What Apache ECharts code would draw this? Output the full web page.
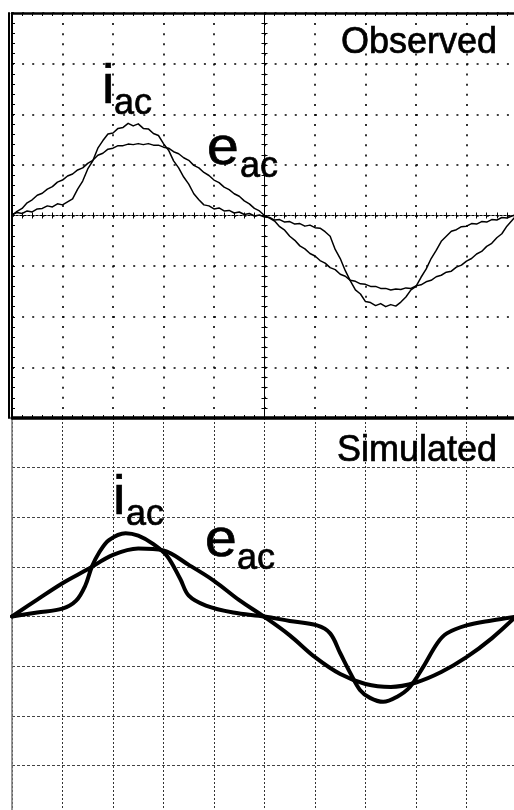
<!DOCTYPE html>
<html>
<head>
<meta charset="utf-8">
<script src="https://cdn.jsdelivr.net/npm/echarts@6/dist/echarts.min.js"></script>
<style>
  html, body { margin: 0; padding: 0; background: #fff; }
  #chart { width: 514px; height: 810px; }
</style>
</head>
<body>
<div id="chart"></div>
<script>
// Time is in screen divisions (one period spans the 10 horizontal divisions),
// amplitudes are in vertical divisions.

// Oscilloscope capture, sampled every 0.1 division from the left edge.
const OBS_STEP = 0.1;
const obsIac = [
  0.02, 0.06, 0.04, 0.09, 0.07, 0.13, 0.14, 0.19, 0.17, 0.23,
  0.21, 0.27, 0.33, 0.52, 0.68, 0.92, 1.08, 1.33, 1.48, 1.61,
  1.63, 1.72, 1.74, 1.82, 1.77, 1.81, 1.72, 1.71, 1.62, 1.58,
  1.42, 1.29, 1.08, 0.94, 0.76, 0.62, 0.43, 0.31, 0.21, 0.19,
  0.13, 0.15, 0.09, 0.10, 0.05, 0.07, 0.02, 0.04, -0.01, 0.01,
  -0.03, -0.04, -0.09, -0.08, -0.13, -0.12, -0.17, -0.16, -0.21, -0.19,
  -0.24, -0.25, -0.32, -0.41, -0.67, -0.85, -1.09, -1.29, -1.47, -1.55,
  -1.70, -1.72, -1.78, -1.74, -1.80, -1.76, -1.79, -1.71, -1.61, -1.47,
  -1.40, -1.22, -1.06, -0.85, -0.69, -0.51, -0.41, -0.31, -0.28, -0.22,
  -0.21, -0.16, -0.17, -0.12, -0.13, -0.08, -0.09, -0.04, -0.05, -0.01,
  0.02
];
const obsEac = [
  0.00, 0.08, 0.14, 0.25, 0.31, 0.40, 0.44, 0.52, 0.57, 0.66,
  0.70, 0.78, 0.82, 0.90, 0.94, 1.03, 1.09, 1.19, 1.23, 1.31,
  1.33, 1.38, 1.38, 1.41, 1.40, 1.42, 1.40, 1.42, 1.39, 1.39,
  1.35, 1.33, 1.26, 1.22, 1.14, 1.09, 0.99, 0.94, 0.85, 0.79,
  0.70, 0.65, 0.56, 0.51, 0.43, 0.38, 0.29, 0.23, 0.14, 0.09,
  0.00, -0.05, -0.11, -0.22, -0.29, -0.41, -0.49, -0.60, -0.66, -0.75,
  -0.80, -0.89, -0.94, -1.03, -1.07, -1.16, -1.20, -1.28, -1.30, -1.35,
  -1.36, -1.40, -1.40, -1.44, -1.44, -1.47, -1.45, -1.46, -1.43, -1.44,
  -1.39, -1.37, -1.31, -1.28, -1.21, -1.18, -1.12, -1.10, -1.02, -0.98,
  -0.90, -0.85, -0.76, -0.71, -0.61, -0.55, -0.44, -0.36, -0.21, -0.10,
  0.02
];

// Simulated waveforms (time measured from the screen centre).
const simIacTime = [-5, -4.5, -4, -3.73, -3.55, -3.42, -3.28, -3.08, -2.75, -2.5, -2.2,
  -1.93, -1.67, -1.5, -1.16, -0.62, 0, 0.5, 1.04, 1.3, 1.5, 1.7, 1.89, 2.09, 2.35,
  2.62, 2.88, 3.14, 3.42, 3.61, 4, 4.5, 5];
const simIac = [0, 0.08, 0.16, 0.32, 0.62, 1.0, 1.28, 1.54, 1.68, 1.63, 1.46,
  1.22, 0.76, 0.42, 0.22, 0.08, 0, -0.09, -0.18, -0.34, -0.74, -1.14, -1.48, -1.64, -1.72,
  -1.62, -1.42, -1.02, -0.54, -0.34, -0.18, -0.08, 0];
const simEacTime = [-5, -4.5, -4, -3.5, -3, -2.5, -2, -1.5, -1, -0.5, 0,
  0.5, 1, 1.5, 2, 2.5, 3, 3.5, 4, 4.5, 5];
const simEac = [0, 0.34, 0.67, 0.95, 1.24, 1.37, 1.33, 1.04, 0.72, 0.33, -0.01,
  -0.38, -0.82, -1.16, -1.36, -1.42, -1.33, -1.12, -0.82, -0.44, 0.02];

// Panel captions and trace names
const panelTitles = ['Observed', 'Simulated'];
const traceNames = ['i', 'e'];
const traceSub = 'ac';

const FONT = '"Liberation Sans", Arial, Helvetica, sans-serif';
const INK = '#000';

const toPairs = (t, v) => v.map((y, k) => [t[k], y]);
const obsTime = obsIac.map((_, k) => -5 + k * OBS_STEP);

const chart = echarts.init(document.getElementById('chart'), null, { renderer: 'canvas' });

const off = { show: false };
const scopeTick = (inside) => ({ show: true, inside: inside, length: 3, lineStyle: { color: INK, width: 1 } });
const scopeMinor = { show: true, splitNumber: 5, length: 3, lineStyle: { color: INK, width: 1 } };
const dots = { show: true, lineStyle: { color: INK, width: 1.6, type: [2, 8.1] } };

function scopeX(extra) {
  return Object.assign({ type: 'value', gridIndex: 0, min: -5, max: 5, interval: 1,
    axisLabel: off, splitLine: off }, extra);
}
function scopeY(extra) {
  return Object.assign({ type: 'value', gridIndex: 0, min: -4, max: 4, interval: 1,
    axisLabel: off, splitLine: off }, extra);
}

const option = {
  backgroundColor: '#fff',
  animation: false,
  grid: [
    { left: 12, top: 13, width: 505, height: 405, containLabel: false, outerBoundsMode: 'none' },
    { left: 12, top: 418, width: 505, height: 397, containLabel: false, outerBoundsMode: 'none' }
  ],
  xAxis: [
    // lower frame edge of the scope screen, carries the dotted vertical graticule
    scopeX({ position: 'bottom',
      axisLine: { show: true, onZero: false, lineStyle: { color: INK, width: 3.5 } },
      axisTick: scopeTick(true), minorTick: scopeMinor, splitLine: dots }),
    // upper frame edge
    scopeX({ position: 'top',
      axisLine: { show: true, onZero: false, lineStyle: { color: INK, width: 2.5 } },
      axisTick: scopeTick(true), minorTick: scopeMinor }),
    // centre horizontal graticule line, ticks below and above
    scopeX({ position: 'bottom',
      axisLine: { show: true, onZero: true, onZeroAxisIndex: 0, lineStyle: { color: INK, width: 1, type: [2, 2] } },
      axisTick: scopeTick(false), minorTick: scopeMinor }),
    scopeX({ position: 'top',
      axisLine: { show: true, onZero: true, onZeroAxisIndex: 0, lineStyle: { color: INK, width: 1, type: [2, 2] } },
      axisTick: scopeTick(false), minorTick: scopeMinor }),
    // simulated panel: dashed vertical grid
    { type: 'value', gridIndex: 1, min: -5, max: 5, interval: 1, position: 'top',
      axisLine: { show: false, onZero: false }, axisTick: off, axisLabel: off,
      splitLine: { show: true, lineStyle: { color: '#333', width: 1, type: [2, 2] } } }
  ],
  yAxis: [
    // inner left frame edge, carries the dotted horizontal graticule
    scopeY({ position: 'left',
      axisLine: { show: true, onZero: false, lineStyle: { color: INK, width: 2 } },
      axisTick: scopeTick(true), minorTick: scopeMinor, splitLine: dots }),
    // outer left frame edge
    scopeY({ position: 'left', offset: 3,
      axisLine: { show: true, onZero: false, lineStyle: { color: INK, width: 2 } },
      axisTick: off }),
    // centre vertical graticule line, ticks on both sides
    scopeY({ position: 'left',
      axisLine: { show: true, onZero: true, onZeroAxisIndex: 0, lineStyle: { color: INK, width: 1 } },
      axisTick: scopeTick(false), minorTick: scopeMinor }),
    scopeY({ position: 'right',
      axisLine: { show: true, onZero: true, onZeroAxisIndex: 0, lineStyle: { color: INK, width: 1 } },
      axisTick: scopeTick(false), minorTick: scopeMinor }),
    // simulated panel: thin left edge and dashed horizontal grid
    { type: 'value', gridIndex: 1, min: -4, max: 4, interval: 1, position: 'left',
      axisLine: { show: true, onZero: false, lineStyle: { color: '#777', width: 1.5 } },
      axisTick: off, axisLabel: off,
      splitLine: { show: true, lineStyle: { color: '#444', width: 1, type: [3, 2] } } }
  ],
  series: [
    { name: 'i_ac observed', type: 'line', xAxisIndex: 0, yAxisIndex: 0,
      data: toPairs(obsTime, obsIac), showSymbol: false, smooth: false,
      lineStyle: { color: INK, width: 1.5, join: 'round' } },
    { name: 'e_ac observed', type: 'line', xAxisIndex: 0, yAxisIndex: 0,
      data: toPairs(obsTime, obsEac), showSymbol: false, smooth: false,
      lineStyle: { color: INK, width: 1.5, join: 'round' } },
    { name: 'i_ac simulated', type: 'line', xAxisIndex: 4, yAxisIndex: 4,
      data: toPairs(simIacTime, simIac), showSymbol: false, smooth: 0.35,
      lineStyle: { color: INK, width: 4, join: 'round', cap: 'round' } },
    { name: 'e_ac simulated', type: 'line', xAxisIndex: 4, yAxisIndex: 4,
      data: toPairs(simEacTime, simEac), showSymbol: false, smooth: 0.35,
      lineStyle: { color: INK, width: 4, join: 'round', cap: 'round' } }
  ],
  graphic: []
};

// text annotations: panel captions and subscripted trace names
function txt(x, y, text, size, align, stretch) {
  return { type: 'text', x: x, y: y, z: 100, silent: true, scaleX: stretch || 1,
    style: { text: text, fontSize: size, fontFamily: FONT, fill: INK,
      stroke: INK, lineWidth: 0.7,
      align: align || 'left', verticalAlign: 'middle' } };
}
option.graphic = [
  txt(497, 43.5, panelTitles[0], 36, 'right'),
  txt(102, 87.6, traceNames[0], 56),
  txt(114, 104.5, traceSub, 36),
  txt(207, 150, traceNames[1], 51, 'left', 1.12),
  txt(240, 167.5, traceSub, 36),
  txt(497, 451.5, panelTitles[1], 36, 'right'),
  txt(113, 498.6, traceNames[0], 56),
  txt(126, 515.5, traceSub, 36),
  txt(205, 542, traceNames[1], 51, 'left', 1.12),
  txt(237, 559.5, traceSub, 36)
];

chart.setOption(option);
</script>
</body>
</html>
